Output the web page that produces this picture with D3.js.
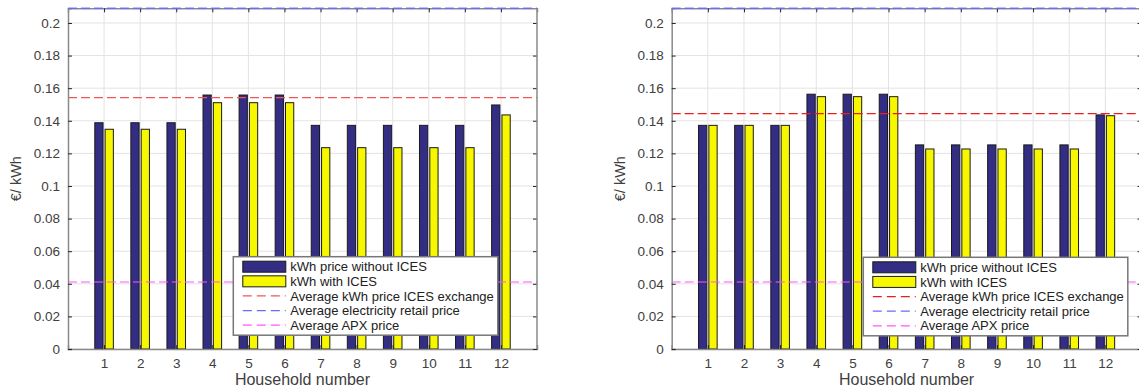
<!DOCTYPE html>
<html><head><meta charset="utf-8">
<script src="https://cdn.jsdelivr.net/npm/d3@7"></script>
<style>body{margin:0;background:#fff}svg{display:block}text{font-family:"Liberation Sans",Arial,sans-serif}</style>
</head><body><svg id="c" width="1139" height="389"></svg>
<script>
const households = [1,2,3,4,5,6,7,8,9,10,11,12];
const leftWithout = [0.1388,0.1388,0.1388,0.1558,0.1558,0.1558,0.1372,0.1372,0.1372,0.1372,0.1372,0.1497];
const leftWith    = [0.1348,0.1348,0.1348,0.1511,0.1511,0.1511,0.1235,0.1235,0.1235,0.1235,0.1235,0.1436];
const rightWithout= [0.1372,0.1372,0.1372,0.1563,0.1563,0.1563,0.1252,0.1252,0.1252,0.1252,0.1252,0.1436];
const rightWith   = [0.1372,0.1372,0.1372,0.1548,0.1548,0.1548,0.1227,0.1227,0.1227,0.1227,0.1227,0.1431];
const leftIcesAvg = 0.1542, rightIcesAvg = 0.1444;
const retailPrice = 0.209;
const apxPrice = 0.0411;
const yTicks = [0,0.02,0.04,0.06,0.08,0.1,0.12,0.14,0.16,0.18,0.2];
const yTickLabels = ["0","0.02","0.04","0.06","0.08","0.1","0.12","0.14","0.16","0.18","0.2"];
const legendLabels = ["kWh price without ICES","kWh with ICES","Average kWh price ICES exchange","Average electricity retail price","Average APX price"];
const yLabel = "€/ kWh", xLabel = "Household number";

const C = {navy:"#342d84", yellow:"#f7f700", red:"#f24a4a", blue:"#6a6aff", magenta:"#ff55ff", grid:"#e3e3e3", axis:"#8a8a8a", text:"#404040"};
const svg = d3.select("#c");

function chart(o){
  const g = svg.append("g");
  const x = d3.scaleLinear().domain([0,13]).range([o.x0,o.x1]);
  const y = d3.scaleLinear().domain([0,retailPrice]).range([349,8.3]);
  // grid
  g.append("g").selectAll("line").data(yTicks).join("line")
    .attr("x1",o.x0).attr("x2",o.x1).attr("y1",d=>y(d)).attr("y2",d=>y(d))
    .attr("stroke",C.grid).attr("stroke-width",1);
  g.append("g").selectAll("line").data(households).join("line")
    .attr("x1",d=>x(d)).attr("x2",d=>x(d)).attr("y1",y(0)).attr("y2",y(retailPrice))
    .attr("stroke",C.grid).attr("stroke-width",1);
  // bars (MATLAB grouped layout)
  const off = 0.143, bw = 0.229;
  const bars = [[o.without,C.navy,-off],[o.with,C.yellow,off]];
  bars.forEach(([vals,col,dx])=>{
    g.append("g").selectAll("rect").data(vals).join("rect")
      .attr("x",(d,i)=>x(households[i]+dx-bw/2)).attr("width",x(bw)-x(0))
      .attr("y",d=>y(d)).attr("height",d=>y(0)-y(d))
      .attr("fill",col).attr("stroke","#1a1a1a").attr("stroke-width",1);
  });
  // reference lines
  const refs = [[o.ices,o.red],[retailPrice,C.blue],[apxPrice,C.magenta]];
  refs.forEach(([v,col])=>{
    g.append("line").attr("x1",o.x0).attr("x2",o.x1).attr("y1",y(v)).attr("y2",y(v))
      .attr("stroke",col).attr("stroke-width",1.2).attr("stroke-dasharray","9,4");
  });
  // axes
  const ax = g.append("g").attr("transform",`translate(0,${y(0)})`)
    .call(d3.axisBottom(x).tickValues(households).tickSize(-4).tickPadding(9).tickFormat(d3.format("d")));
  const ay = g.append("g").attr("transform",`translate(${o.x0},0)`)
    .call(d3.axisLeft(y).tickValues(yTicks).tickSize(-4).tickPadding(8).tickFormat((d,i)=>yTickLabels[i]));
  const ayr = g.append("g").attr("transform",`translate(${o.x1},0)`)
    .call(d3.axisRight(y).tickValues(yTicks).tickSize(-4).tickFormat(""));
  const axt = g.append("g").attr("transform",`translate(0,${y(retailPrice)})`)
    .call(d3.axisTop(x).tickValues(households).tickSize(-4).tickFormat(""));
  [ax,ay,ayr,axt].forEach(a=>{
    a.select(".domain").attr("stroke",C.axis).attr("stroke-width",1.5);
    a.selectAll(".tick line").attr("stroke","#262626");
    a.selectAll("text").attr("fill",C.text).style("font-size","13.5px");
  });
  ayr.select(".domain").remove();
  g.append("line").attr("x1",o.x1).attr("x2",o.x1).attr("y1",y(0)).attr("y2",y(retailPrice)).attr("stroke",C.axis).attr("stroke-width",1.5);
  g.append("line").attr("x1",o.x0).attr("x2",o.x1).attr("y1",y(retailPrice)).attr("y2",y(retailPrice))
    .attr("stroke",C.blue).attr("stroke-width",1.3).attr("stroke-dasharray","9,4");
  // labels
  g.append("text").attr("x",(o.x0+o.x1)/2).attr("y",385).attr("text-anchor","middle")
    .attr("fill",C.text).style("font-size","16px").text(xLabel);
  g.append("text").attr("transform",`translate(${o.x0-47},${(y(0)+y(retailPrice))/2}) rotate(-90)`)
    .attr("text-anchor","middle").attr("fill",C.text).style("font-size","14.5px").text(yLabel);
  // legend
  const L = g.append("g").attr("transform",`translate(${o.lx},${o.ly})`);
  L.append("rect").attr("width",264.5).attr("height",78.5).attr("fill","#fff").attr("stroke","#777").attr("stroke-width",1.5);
  const rowY = d3.scaleLinear().domain([0,4]).range([10,68.5]);
  legendLabels.forEach((lab,i)=>{
    const cy = rowY(i);
    if(i<2){
      L.append("rect").attr("x",9.5).attr("y",cy-5.5).attr("width",43).attr("height",11)
        .attr("fill",i===0?C.navy:C.yellow).attr("stroke","#1a1a1a");
    } else {
      L.append("line").attr("x1",9.5).attr("x2",52.5).attr("y1",cy).attr("y2",cy)
        .attr("stroke",[o.red,C.blue,C.magenta][i-2]).attr("stroke-width",1.2).attr("stroke-dasharray","9,5");
    }
    L.append("text").attr("x",57).attr("y",cy+4.6).attr("fill","#222").style("font-size","13px").text(lab);
  });
}
chart({x0:68,x1:537,without:leftWithout,with:leftWith,ices:leftIcesAvg,red:"#f05656",lx:233.3,ly:256.7});
chart({x0:671.7,x1:1141.5,without:rightWithout,with:rightWith,ices:rightIcesAvg,red:"#ee1c1c",lx:863.3,ly:257.3});
</script></body></html>
